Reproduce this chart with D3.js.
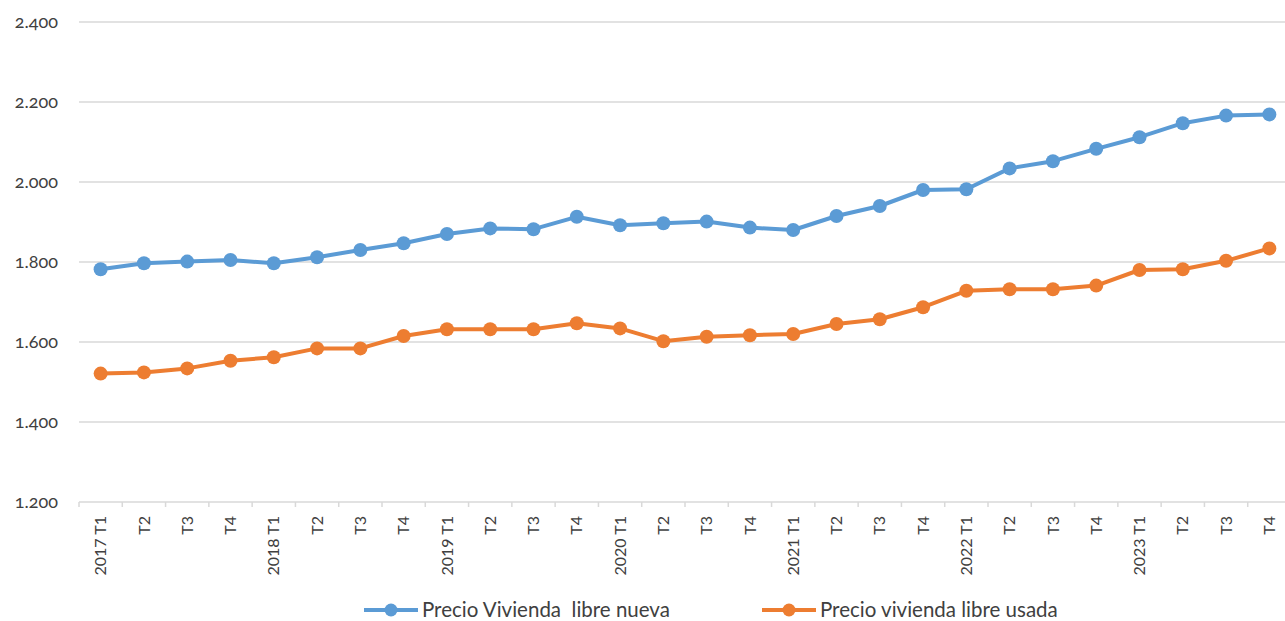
<!DOCTYPE html>
<html>
<head>
<meta charset="utf-8">
<script src="https://cdn.jsdelivr.net/npm/d3@7"></script>
<style>
  body { margin: 0; background: #fff; }
  svg text { font-family: Lato, "Open Sans", sans-serif; fill: #404040; }
</style>
</head>
<body>
<svg id="chart" width="1285" height="621"></svg>
<script>
// quarters 2017 T1 .. 2023 T4
var quarters = ["2017 T1", "T2", "T3", "T4", "2018 T1", "T2", "T3", "T4",
  "2019 T1", "T2", "T3", "T4", "2020 T1", "T2", "T3", "T4",
  "2021 T1", "T2", "T3", "T4", "2022 T1", "T2", "T3", "T4",
  "2023 T1", "T2", "T3", "T4"];
var nueva = [1782, 1797, 1801, 1805, 1797, 1812, 1830, 1847, 1870, 1884, 1882, 1913,
  1892, 1897, 1901, 1886, 1880, 1915, 1940, 1980, 1982, 2034, 2052, 2083,
  2112, 2147, 2166, 2169];
var usada = [1521, 1524, 1534, 1553, 1562, 1584, 1584, 1615, 1632, 1632, 1632, 1647,
  1634, 1602, 1613, 1617, 1620, 1645, 1657, 1687, 1728, 1732, 1732, 1741,
  1780, 1782, 1803, 1834];
var yTicks = [1200, 1400, 1600, 1800, 2000, 2200, 2400];
var seriesNames = ["Precio Vivienda  libre nueva", "Precio vivienda libre usada"];
var colors = ["#5B9BD5", "#ED7D31"];

var svg = d3.select("#chart");
var plotLeft = 79, plotRight = 1291, plotTop = 22, plotBottom = 502;

var x = d3.scaleBand()
    .domain(d3.range(quarters.length))
    .range([plotLeft, plotRight]);

var y = d3.scaleLinear()
    .domain([1200, 2400])
    .range([plotBottom, plotTop]);

// gridlines
svg.append("g")
  .selectAll("line")
  .data(yTicks)
  .join("line")
    .attr("x1", plotLeft)
    .attr("x2", 1285)
    .attr("y1", function(d) { return y(d); })
    .attr("y2", function(d) { return y(d); })
    .attr("stroke", "#d9d9d9")
    .attr("stroke-width", 1.5);

// y labels (Spanish thousands separator)
svg.append("g")
  .selectAll("text")
  .data(yTicks)
  .join("text")
    .attr("x", 58)
    .attr("y", function(d) { return y(d); })
    .attr("dy", "0.35em")
    .attr("text-anchor", "end")
    .style("font-size", "18px")
    .style("font-variant-numeric", "oldstyle-nums")
    .text(function(d) { return (d / 1000).toFixed(3); });

// x ticks
svg.append("g")
  .selectAll("line")
  .data(d3.range(quarters.length + 1))
  .join("line")
    .attr("x1", function(i) { return plotLeft + i * x.step(); })
    .attr("x2", function(i) { return plotLeft + i * x.step(); })
    .attr("y1", plotBottom)
    .attr("y2", plotBottom + 5)
    .attr("stroke", "#d9d9d9")
    .attr("stroke-width", 1.5);

// x labels
svg.append("g")
  .selectAll("text")
  .data(quarters)
  .join("text")
    .attr("transform", function(d, i) {
      return "translate(" + (x(i) + x.bandwidth() / 2) + "," + (plotBottom + 14) + ") rotate(-90)";
    })
    .attr("dy", "0.35em")
    .attr("text-anchor", "end")
    .style("font-size", "16px")
    .text(function(d) { return d; });

// lines + markers
var line = d3.line()
    .x(function(d, i) { return x(i) + x.bandwidth() / 2; })
    .y(function(d) { return y(d); });

[nueva, usada].forEach(function(vals, k) {
  svg.append("path")
    .datum(vals)
    .attr("d", line)
    .attr("fill", "none")
    .attr("stroke", colors[k])
    .attr("stroke-width", 4)
    .attr("stroke-linejoin", "round");
  svg.append("g")
    .selectAll("circle")
    .data(vals)
    .join("circle")
      .attr("cx", function(d, i) { return x(i) + x.bandwidth() / 2; })
      .attr("cy", function(d) { return y(d); })
      .attr("r", 7)
      .attr("fill", colors[k]);
});

// legend
var legendX = [364, 762];
var legend = svg.append("g");
seriesNames.forEach(function(name, k) {
  var g = legend.append("g").attr("transform", "translate(" + legendX[k] + ",610)");
  g.append("line")
    .attr("x1", 0).attr("x2", 54)
    .attr("stroke", colors[k])
    .attr("stroke-width", 4);
  g.append("circle")
    .attr("cx", 27)
    .attr("r", 6.5)
    .attr("fill", colors[k]);
  g.append("text")
    .attr("x", 58)
    .attr("dy", "0.35em")
    .style("font-size", "20.5px")
    .style("white-space", "pre")
    .text(name);
});
</script>
</body>
</html>
